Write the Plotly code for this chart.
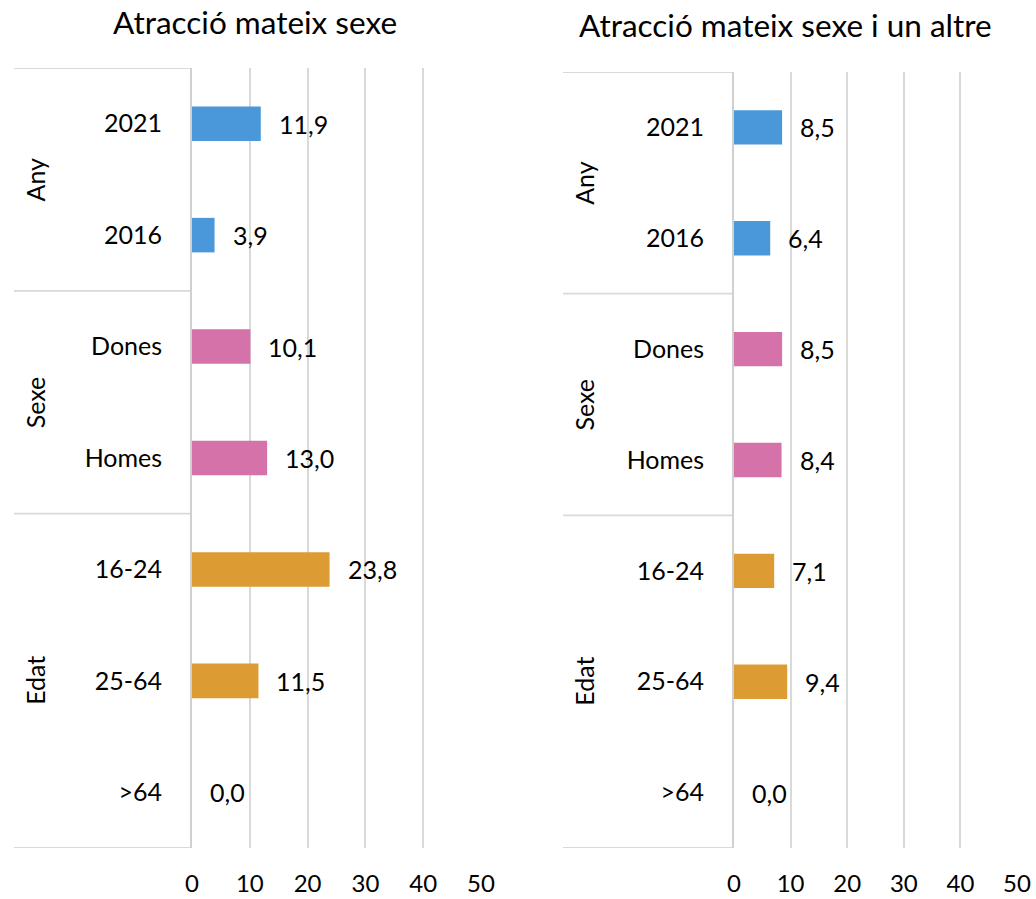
import plotly.graph_objects as go

categories = ["2021", "2016", "Dones", "Homes", "16-24", "25-64", ">64"]
groups = ["Any", "Any", "Sexe", "Sexe", "Edat", "Edat", "Edat"]
group_names = ["Any", "Sexe", "Edat"]
mateix_sexe = [11.9, 3.9, 10.1, 13.0, 23.8, 11.5, 0.0]
mateix_i_altre = [8.5, 6.4, 8.5, 8.4, 7.1, 9.4, 0.0]
titles = ["Atracció mateix sexe", "Atracció mateix sexe i un altre"]
x_ticks = [0, 10, 20, 30, 40, 50]

group_colors = {"Any": "#4A98D9", "Sexe": "#D472A9", "Edat": "#DC9B33"}
FONT = "Lato"
W, H = 1036, 899

panels = [
    dict(values=mateix_sexe, xdom=(192, 481), ytop=68, ybot=848, left=14, title_x=255, title_y=22),
    dict(values=mateix_i_altre, xdom=(734, 1017), ytop=72, ybot=848, left=563, title_x=785, title_y=25),
]

fig = go.Figure()
annotations = []
shapes = []

for i, (p, title) in enumerate(zip(panels, titles)):
    n = "" if i == 0 else str(i + 1)
    xa, ya = "x" + n, "y" + n
    colors = [group_colors[g] for g in groups]
    fig.add_trace(go.Bar(
        x=p["values"], y=categories, orientation="h",
        marker=dict(color=colors, line=dict(width=0)),
        width=0.31, xaxis=xa, yaxis=ya, showlegend=False,
        hoverinfo="x+y",
    ))
    # data labels
    for k, v in enumerate(p["values"]):
        annotations.append(dict(
            x=v, y=k, xref=xa, yref=ya, text=f"{v:.1f}".replace(".", ","),
            showarrow=False, xanchor="left", yanchor="middle", xshift=16,
            font=dict(family=FONT, size=25, color="#000000"),
        ))
    x0 = p["xdom"][0] / W
    x1 = p["xdom"][1] / W
    fig.update_layout(**{
        ("xaxis" + n): dict(
            domain=[x0, x1], range=[0, 50], tickvals=x_ticks, type="linear",
            showgrid=True, gridcolor="#D9D9D9", gridwidth=1.8,
            zeroline=False, showline=False, anchor=ya, automargin=False,
            tickfont=dict(family=FONT, size=24, color="#000000"),
            ticklabelstandoff=19, fixedrange=True,
        ),
        ("yaxis" + n): dict(
            domain=[1 - p["ybot"] / H, 1 - p["ytop"] / H], type="category",
            categoryorder="array", categoryarray=categories,
            range=[6.5, -0.5], showgrid=False, zeroline=False,
            showline=True, linecolor="#D0D0D0", linewidth=1.8, automargin=False,
            tickfont=dict(family=FONT, size=25, color="#000000"),
            ticklabelstandoff=23, anchor=xa, fixedrange=True,
        ),
    })
    # group divider lines
    lx = p["left"] / W
    for yy in [-0.5, 1.5, 3.5, 6.5]:
        shapes.append(dict(
            type="line", xref="paper", yref=ya, x0=lx, x1=x0, y0=yy, y1=yy,
            line=dict(color="#D9D9D9", width=1.8), layer="below",
        ))
    # group labels
    for g, yc in zip(group_names, [0.5, 2.5, 5]):
        annotations.append(dict(
            x=(p["left"] + 21) / W, y=yc, xref="paper", yref=ya, text=g,
            textangle=-90, showarrow=False, xanchor="center", yanchor="middle",
            font=dict(family=FONT, size=25, color="#000000"),
        ))
    annotations.append(dict(
        x=p["title_x"] / W, y=1 - p["title_y"] / H, xref="paper", yref="paper",
        text=title, showarrow=False, xanchor="center", yanchor="middle",
        font=dict(family=FONT, size=31.5, color="#000000"),
    ))

fig.update_layout(
    width=W, height=H, margin=dict(l=0, r=0, t=0, b=0, autoexpand=False),
    paper_bgcolor="#FFFFFF", plot_bgcolor="#FFFFFF",
    annotations=annotations, shapes=shapes, bargap=0.7,
)

fig.write_html(
    "out.html",
    config={"displayModeBar": False},
    post_script="document.body.style.margin='0';document.body.style.overflow='hidden';",
)
